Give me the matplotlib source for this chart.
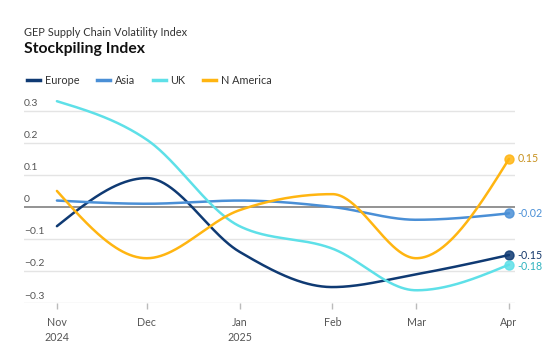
import numpy as np
import matplotlib.pyplot as plt
import matplotlib.dates as mdates
import matplotlib.transforms as mtransforms
from matplotlib.lines import Line2D
from datetime import date, timedelta

plt.rcParams['font.family'] = ['Lato', 'DejaVu Sans']

months = [date(2024, 11, 1), date(2024, 12, 1), date(2025, 1, 1),
          date(2025, 2, 1), date(2025, 3, 1), date(2025, 4, 1)]
month_labels = ['Nov\n2024', 'Dec', 'Jan\n2025', 'Feb', 'Mar', 'Apr']

europe = [-0.06, 0.09, -0.14, -0.25, -0.21, -0.15]
asia = [0.02, 0.01, 0.02, 0.00, -0.04, -0.02]
uk = [0.33, 0.21, -0.06, -0.13, -0.26, -0.18]
n_america = [0.05, -0.16, -0.01, 0.04, -0.16, 0.15]

series = [
    ('Europe', europe, '#0f3a73', '#14386b'),
    ('Asia', asia, '#4a8fd6', '#4a8fd6'),
    ('UK', uk, '#5ee0e8', '#2fb3bf'),
    ('N America', n_america, '#ffb511', '#c8921f'),
]

yticks = [0.3, 0.2, 0.1, 0, -0.1, -0.2, -0.3]


def monotone(x, y, n=400):
    # monotone cubic (like d3 curveMonotoneX), only for drawing the line
    x = np.asarray(x, float)
    y = np.asarray(y, float)
    h = np.diff(x)
    s = np.diff(y) / h
    m = np.zeros_like(y)
    for i in range(1, len(y) - 1):
        if s[i - 1] * s[i] <= 0:
            m[i] = 0
        else:
            p = (s[i - 1] * h[i] + s[i] * h[i - 1]) / (h[i - 1] + h[i])
            m[i] = np.sign(s[i - 1]) * min(abs(s[i - 1]), abs(s[i]), 0.5 * abs(p)) * 2
    m[0] = (3 * s[0] - m[1]) / 2 if len(y) > 2 else s[0]
    m[-1] = (3 * s[-1] - m[-2]) / 2 if len(y) > 2 else s[-1]
    xs, ys = [], []
    for i in range(len(h)):
        t = np.linspace(0, 1, n // len(h))
        h00 = 2 * t**3 - 3 * t**2 + 1
        h10 = t**3 - 2 * t**2 + t
        h01 = -2 * t**3 + 3 * t**2
        h11 = t**3 - t**2
        xs.append(x[i] + t * h[i])
        ys.append(h00 * y[i] + h10 * h[i] * m[i] + h01 * y[i + 1] + h11 * h[i] * m[i + 1])
    return np.concatenate(xs), np.concatenate(ys)


fig = plt.figure(figsize=(5.54, 3.57), dpi=100)
ax = fig.add_axes([0.0433, 0.151, 0.8863, 0.5745])

xnum = mdates.date2num(months)
ax.set_xlim(mdates.date2num(months[0] - timedelta(days=11.4)),
            mdates.date2num(months[-1] + timedelta(days=2.4)))
ax.set_ylim(-0.3, 0.34)

for v in yticks:
    if v == 0:
        ax.axhline(v, color='#8a8a8a', lw=1.3, zorder=1)
    else:
        ax.axhline(v, color='#e4e4e4', lw=1.0, zorder=1)

trans = mtransforms.blended_transform_factory(ax.transAxes, ax.transData)
for v in yticks:
    lab = '0' if v == 0 else ('%.1f' % v).replace('-', '\u2212')
    ax.text(0.0, v + 0.008, lab, transform=trans, ha='left', va='bottom',
            fontsize=7.5, color='#555555')

for name, vals, col, tcol in series:
    xs, ys = monotone(xnum, vals)
    ax.plot(xs, ys, color=col, lw=1.8, solid_capstyle='round', zorder=3)
    ax.plot(xnum[-1], vals[-1], 'o', color=col, ms=6.5, alpha=0.85,
            clip_on=False, zorder=4)

label_offsets = {'Europe': 0.0, 'Asia': 0.0, 'UK': -0.005, 'N America': 0.0}
for name, vals, col, tcol in series:
    ax.annotate('%.2f' % vals[-1], (xnum[-1], vals[-1] + label_offsets[name]),
                xytext=(6, 0), textcoords='offset points', va='center',
                ha='left', fontsize=7.7, color=tcol, annotation_clip=False)

for sp in ax.spines.values():
    sp.set_visible(False)
ax.set_yticks([])
ax.set_xticks(xnum)
ax.set_xticklabels(month_labels, fontsize=7.7, color='#555555', linespacing=1.5)
ax.tick_params(axis='x', length=4, color='#bbbbbb', width=1, pad=6)

fig.text(0.0433, 0.91, 'GEP Supply Chain Volatility Index', fontsize=7.9,
         color='#333333', va='center')
fig.text(0.0433, 0.862, 'Stockpiling Index', fontsize=11.3, fontweight='bold',
         color='#111111', va='center')

handles = [Line2D([0], [0], color=c, lw=2.5) for _, _, c, _ in series]
fig.legend(handles, [s[0] for s in series], loc='center left',
           bbox_to_anchor=(0.032, 0.775), ncol=4, frameon=False, fontsize=7.8,
           handlelength=1.2, handletextpad=0.45, columnspacing=1.6,
           labelcolor='#333333')

fig.savefig('out.png', dpi=100)
